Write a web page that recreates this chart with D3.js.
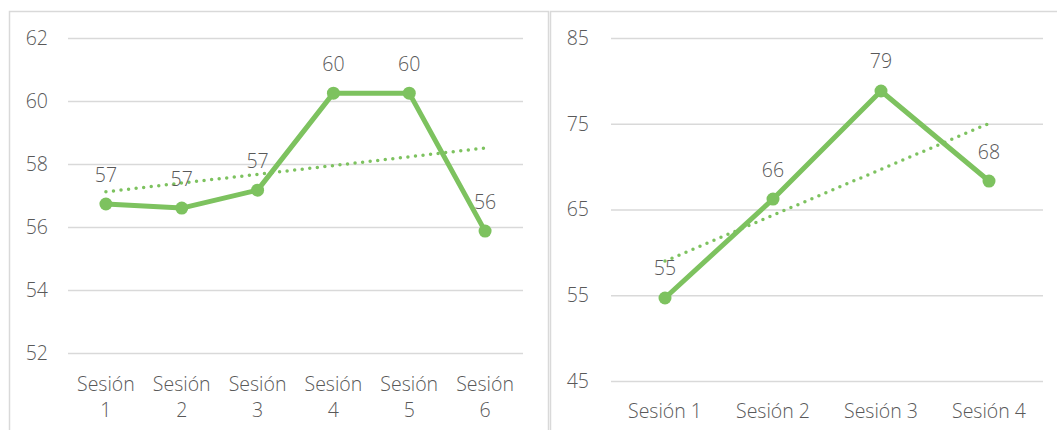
<!DOCTYPE html>
<html>
<head>
<meta charset="utf-8">
<script src="https://cdn.jsdelivr.net/npm/d3@7"></script>
<style>
  html, body { margin: 0; padding: 0; background: #fff; }
  svg { display: block; }
  text { font-family: "Open Sans", sans-serif; fill: #595959; font-weight: 350; }
</style>
</head>
<body>
<svg id="chart" width="1057" height="430"></svg>
<script>
// Session scores, first group (six sessions)
const sessionsA = ["Sesión 1", "Sesión 2", "Sesión 3", "Sesión 4", "Sesión 5", "Sesión 6"];
const valuesA = [56.73, 56.6, 57.17, 60.25, 60.25, 55.87];
const ticksA = [52, 54, 56, 58, 60, 62];

// Session scores, second group (four sessions)
const sessionsB = ["Sesión 1", "Sesión 2", "Sesión 3", "Sesión 4"];
const valuesB = [54.68, 66.22, 78.82, 68.32];
const ticksB = [45, 55, 65, 75, 85];

const green = "#7dc25f";
const grid = "#d9d9d9";
const fontSize = 19.5;
const svg = d3.select("#chart");

// panel frames
svg.append("rect").attr("x", 9.5).attr("y", 11.5).attr("width", 539).attr("height", 440)
  .attr("fill", "none").attr("stroke", grid).attr("stroke-width", 1.5);
svg.append("rect").attr("x", 550.5).attr("y", 11.5).attr("width", 520).attr("height", 440)
  .attr("fill", "none").attr("stroke", grid).attr("stroke-width", 1.5);

// least-squares trend over category positions 1..n
function trend(vals) {
  const n = vals.length;
  const xs = vals.map((_, i) => i + 1);
  const mx = d3.mean(xs), my = d3.mean(vals);
  const b = d3.sum(xs, (x, i) => (x - mx) * (vals[i] - my)) / d3.sum(xs, x => (x - mx) ** 2);
  const a = my - b * mx;
  return [a + b * 1, a + b * n];
}

function panel(cfg) {
  const g = svg.append("g");
  const x = d3.scaleBand().domain(cfg.cats).range(cfg.xRange).padding(0);
  const y = d3.scaleLinear().domain(cfg.yDomain).range(cfg.yRange);
  const cx = d => x(d) + x.bandwidth() / 2;

  // horizontal gridlines + value labels
  const yAxis = g.append("g")
    .attr("transform", `translate(${cfg.xRange[0]},0)`)
    .call(d3.axisLeft(y).tickValues(cfg.ticks).tickSize(-(cfg.xRange[1] - cfg.xRange[0])).tickPadding(cfg.yPad).tickFormat(d3.format("d")));
  yAxis.select(".domain").remove();
  yAxis.selectAll("line").attr("stroke", grid).attr("stroke-width", 1.5);
  yAxis.selectAll("text").attr("font-size", fontSize).attr("fill", "#595959")
    .attr("font-family", "Open Sans, sans-serif");

  // category labels
  const xl = g.append("g");
  cfg.cats.forEach(c => {
    const t = xl.append("text").attr("text-anchor", "middle").attr("font-size", fontSize);
    if (cfg.wrap) {
      const parts = c.split(" ");
      t.append("tspan").attr("x", cx(c)).attr("y", cfg.xLabelY).attr("dominant-baseline", "central").text(parts[0]);
      t.append("tspan").attr("x", cx(c)).attr("y", cfg.xLabelY + 26).attr("dominant-baseline", "central").text(parts[1]);
    } else {
      t.attr("x", cx(c)).attr("y", cfg.xLabelY).attr("dominant-baseline", "central").text(c);
    }
  });

  // dotted linear trend
  const [t0, t1] = trend(cfg.vals);
  const first = cfg.cats[0], last = cfg.cats[cfg.cats.length - 1];
  g.append("line")
    .attr("x1", cx(first)).attr("y1", y(t0))
    .attr("x2", cx(last)).attr("y2", y(t1))
    .attr("stroke", green).attr("stroke-width", 3.5)
    .attr("stroke-linecap", "round").attr("stroke-dasharray", "0 7.6");

  // series line
  const line = d3.line().x((d, i) => cx(cfg.cats[i])).y(d => y(d));
  g.append("path").datum(cfg.vals).attr("d", line)
    .attr("fill", "none").attr("stroke", green).attr("stroke-width", 5)
    .attr("stroke-linejoin", "round");

  // markers
  g.selectAll("circle.pt").data(cfg.vals).join("circle")
    .attr("class", "pt")
    .attr("cx", (d, i) => cx(cfg.cats[i])).attr("cy", d => y(d)).attr("r", 6.5)
    .attr("fill", green);

  // value labels
  g.selectAll("text.val").data(cfg.vals).join("text")
    .attr("class", "val")
    .attr("x", (d, i) => cx(cfg.cats[i])).attr("y", d => y(d) - 30)
    .attr("text-anchor", "middle").attr("dominant-baseline", "central")
    .attr("font-size", fontSize)
    .text(d => Math.round(d));
}

panel({
  cats: sessionsA, vals: valuesA, ticks: ticksA,
  xRange: [68, 523], yDomain: [52, 62], yRange: [353, 38],
  yPad: 20, xLabelY: 383, wrap: true
});

panel({
  cats: sessionsB, vals: valuesB, ticks: ticksB,
  xRange: [611, 1043], yDomain: [45, 85], yRange: [381, 38],
  yPad: 22, xLabelY: 410, wrap: false
});
</script>
</body>
</html>
